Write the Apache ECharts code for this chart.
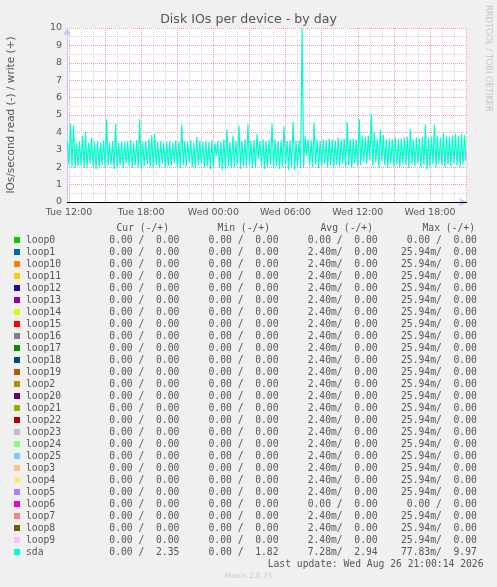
<!DOCTYPE html>
<html>
<head>
<meta charset="utf-8">
<script src="https://cdn.jsdelivr.net/npm/echarts@6/dist/echarts.min.js"></script>
<style>
  html, body { margin: 0; padding: 0; background: #f0f0f0; }
  #chart { width: 497px; height: 587px; }
</style>
</head>
<body>
<div id="chart"></div>
<script>
// devices in legend order
var deviceNames = ['loop0', 'loop1', 'loop10', 'loop11', 'loop12', 'loop13', 'loop14', 'loop15', 'loop16',
    'loop17', 'loop18', 'loop19', 'loop2', 'loop20', 'loop21', 'loop22', 'loop23', 'loop24', 'loop25',
    'loop3', 'loop4', 'loop5', 'loop6', 'loop7', 'loop8', 'loop9', 'sda']
var deviceColors = ['#00CC00', '#0066B3', '#FF8000', '#FFCC00', '#330099', '#990099', '#CCFF00', '#FF0000', '#808080',
    '#008F00', '#00487D', '#B35A00', '#B38F00', '#6B006B', '#8FB300', '#B30000', '#BEBEBE', '#80FF80', '#80C9FF',
    '#FFC080', '#FFE680', '#AA80FF', '#EE00CC', '#FF8080', '#666600', '#FFBFFF', '#00FFCC']

// legend stats (read / write), one entry per device
var curRead  = [0, 0, 0, 0, 0, 0, 0, 0, 0, 0, 0, 0, 0, 0, 0, 0, 0, 0, 0, 0, 0, 0, 0, 0, 0, 0, 0]
var curWrite = [0, 0, 0, 0, 0, 0, 0, 0, 0, 0, 0, 0, 0, 0, 0, 0, 0, 0, 0, 0, 0, 0, 0, 0, 0, 0, 2.35]
var minRead  = [0, 0, 0, 0, 0, 0, 0, 0, 0, 0, 0, 0, 0, 0, 0, 0, 0, 0, 0, 0, 0, 0, 0, 0, 0, 0, 0]
var minWrite = [0, 0, 0, 0, 0, 0, 0, 0, 0, 0, 0, 0, 0, 0, 0, 0, 0, 0, 0, 0, 0, 0, 0, 0, 0, 0, 1.82]
var avgRead  = [0, 0.0024, 0.0024, 0.0024, 0.0024, 0.0024, 0.0024, 0.0024, 0.0024, 0.0024, 0.0024, 0.0024, 0.0024,
    0.0024, 0.0024, 0.0024, 0.0024, 0.0024, 0.0024, 0.0024, 0.0024, 0.0024, 0, 0.0024, 0.0024, 0.0024, 0.00728]
var avgWrite = [0, 0, 0, 0, 0, 0, 0, 0, 0, 0, 0, 0, 0, 0, 0, 0, 0, 0, 0, 0, 0, 0, 0, 0, 0, 0, 2.94]
var maxRead  = [0, 0.02594, 0.02594, 0.02594, 0.02594, 0.02594, 0.02594, 0.02594, 0.02594, 0.02594, 0.02594, 0.02594,
    0.02594, 0.02594, 0.02594, 0.02594, 0.02594, 0.02594, 0.02594, 0.02594, 0.02594, 0.02594, 0, 0.02594, 0.02594,
    0.02594, 0.07783]
var maxWrite = [0, 0, 0, 0, 0, 0, 0, 0, 0, 0, 0, 0, 0, 0, 0, 0, 0, 0, 0, 0, 0, 0, 0, 0, 0, 0, 9.97]

// x axis in hours since Tue 00:00
var xStartHour = 11.834
var xEndHour = 45.08
var labelHours = [12, 18, 24, 30, 36, 42]
var gridHours = [12, 13, 14, 15, 16, 17, 18, 19, 20, 21, 22, 23, 24, 25, 26, 27, 28, 29, 30, 31, 32, 33, 34, 35,
    36, 37, 38, 39, 40, 41, 42, 43, 44, 45]

// sda writes: alternating peak / dip samples
var sdaStart = 11.875
var sdaStep = 0.125
var sdaPeaks = [3.5, 4.5, 4.4, 3.4, 3.5, 3.8, 4.05, 3.4, 3.7, 3.45,
    3.5, 3.4, 3.55, 4.75, 3.4, 3.5, 4.5, 3.4, 3.5, 3.45,
    3.5, 3.55, 3.4, 3.55, 4.75, 3.45, 3.5, 3.6, 3.85, 3.9,
    3.45, 3.5, 3.4, 3.45, 3.5, 3.4, 3.55, 3.45, 4.45, 3.5,
    3.45, 3.55, 3.4, 3.75, 3.5, 3.45, 3.5, 3.45, 3.55, 3.4,
    3.5, 3.45, 3.6, 4.15, 3.45, 3.8, 3.5, 4.4, 3.5, 3.6,
    4.45, 3.5, 3.55, 3.9, 3.5, 3.6, 3.5, 3.55, 4.5, 3.6,
    3.5, 3.55, 4.35, 3.5, 3.55, 4.6, 3.5, 3.55, 9.97, 3.8,
    3.6, 3.55, 4.55, 3.6, 3.5, 3.6, 3.55, 3.65, 3.6, 3.55,
    3.7, 3.6, 3.65, 4.6, 3.6, 3.65, 3.6, 4.75, 3.8, 3.75,
    3.8, 5.05, 4.0, 3.6, 4.15, 3.85, 3.6, 3.65, 3.6, 3.7,
    3.6, 3.65, 3.7, 3.75, 4.2, 3.6, 3.7, 3.65, 3.75, 4.45,
    3.7, 3.75, 4.45, 3.8, 3.7, 3.95, 3.8, 3.75, 3.85, 3.9,
    3.8, 3.9, 3.85]
var sdaDips = [2.15, 2.0, 1.95, 2.05, 2.1, 1.95, 2.0, 2.2, 2.05, 1.9,
    2.0, 2.1, 1.95, 2.05, 2.15, 1.9, 2.0, 2.1, 1.95, 2.2,
    2.05, 1.95, 2.1, 2.0, 1.9, 2.05, 2.15, 2.0, 1.95, 2.1,
    2.0, 2.2, 1.95, 2.05, 2.1, 2.25, 2.0, 1.95, 2.1, 2.05,
    2.3, 2.0, 1.95, 2.1, 2.2, 2.0, 2.05, 1.9, 1.95, 2.6,
    2.0, 1.85, 1.9, 2.05, 1.95, 2.0, 2.1, 1.9, 2.05, 2.0,
    2.1, 1.95, 2.0, 2.5, 2.05, 1.9, 2.0, 2.15, 1.95, 2.05,
    1.9, 2.0, 2.1, 1.85, 2.0, 1.82, 2.05, 1.95, 2.0, 2.6,
    2.1, 2.0, 2.15, 1.95, 2.05, 2.2, 2.0, 2.1, 1.95, 2.15,
    2.05, 2.2, 2.0, 2.1, 1.95, 2.25, 2.05, 2.1, 2.3, 2.2,
    2.4, 2.1, 2.3, 2.0, 2.35, 2.1, 1.95, 2.2, 2.05, 2.15,
    2.0, 2.2, 2.1, 1.95, 2.15, 2.05, 2.2, 2.0, 2.1, 1.85,
    2.05, 2.15, 2.0, 2.2, 2.1, 2.0, 2.15, 2.05, 2.2, 2.1,
    2.0, 2.15, 2.35]

var MONO = '"DejaVu Sans Mono", monospace'
var SANS = '"DejaVu Sans", sans-serif'
var TEXT = '#555'
var MONO_FONT = '9.7px ' + MONO

// rrdtool-like "%6.2lf%s"
function fmt(v) {
    var suffix = ' '
    if (v !== 0 && Math.abs(v) < 1) { v = v * 1000; suffix = 'm' }
    var s = v.toFixed(2)
    while (s.length < 6) s = ' ' + s
    return s + suffix
}
function pair(r, w, i) { return fmt(r[i]) + '/' + fmt(w[i]) }

function label(text, x, y, font, fill, align) {
    return { type: 'text', x: x, y: y, silent: true, style: { text: text, fill: fill || TEXT, font: font,
        align: align || 'left', verticalAlign: 'middle', textAlign: align || 'left', textVerticalAlign: 'middle' } }
}

var sdaData = []
for (var k = 0; k < sdaPeaks.length; k++) {
    sdaData.push([sdaStart + 2 * k * sdaStep, sdaPeaks[k]])
    sdaData.push([sdaStart + (2 * k + 1) * sdaStep, sdaDips[k]])
}

var series = deviceNames.map(function (name, i) {
    var s = {
        name: name,
        type: 'line',
        showSymbol: false,
        data: [],
        itemStyle: { color: deviceColors[i] },
        lineStyle: { color: deviceColors[i], width: 1.2 }
    }
    if (name === 'sda') {
        s.data = sdaData
        s.markLine = {
            silent: true,
            symbol: ['none', 'none'],
            label: { show: false },
            lineStyle: { color: '#000', width: 1, type: 'solid' },
            data: [{ yAxis: 0 }]
        }
    }
    return s
})

// legend text rows (names + cur/min/avg/max columns)
var texts = [
    label('Disk IOs per device - by day', 248.5, 19.5, '12.6px ' + SANS, TEXT, 'center'),
    {
        type: 'text', x: 488.5, y: 5, rotation: -Math.PI / 2, silent: true,
        style: { text: 'RRDTOOL / TOBI OETIKER', fill: '#c4c4c4', font: '8.3px ' + SANS,
            align: 'left', verticalAlign: 'middle', textAlign: 'left', textVerticalAlign: 'middle' }
    },
    label('Cur (-/+)', 116.5, 228.3, MONO_FONT),
    label('Min (-/+)', 217.5, 228.3, MONO_FONT),
    label('Avg (-/+)', 320.5, 228.3, MONO_FONT),
    label('Max (-/+)', 422.5, 228.3, MONO_FONT),
    label('Last update: Wed Aug 26 21:00:14 2026', 483.5, 564.3, MONO_FONT, TEXT, 'right'),
    label('Munin 2.0.75', 248.5, 576.5, '7.3px ' + SANS, '#c8c8c8', 'center')
]
deviceNames.forEach(function (name, i) {
    var y = 240.4 + 12 * i
    texts.push(label(name, 26, y, MONO_FONT))
    texts.push(label(pair(curRead, curWrite, i) + '  ' + pair(minRead, minWrite, i) + '  ' +
        pair(avgRead, avgWrite, i) + '  ' + pair(maxRead, maxWrite, i), 97.7, y, MONO_FONT))
})

var option = {
    animation: false,
    backgroundColor: '#f0f0f0',
    grid: {
        left: 67, right: 30, top: 28, bottom: 385,
        outerBoundsMode: 'none',
        show: true, backgroundColor: '#fff', borderWidth: 0
    },
    xAxis: {
        type: 'value',
        min: xStartHour,
        max: xEndHour,
        axisLine: { show: true, lineStyle: { color: '#c4c4ff' }, symbol: ['none', 'arrow'], symbolSize: [6, 8] },
        axisTick: { show: false, customValues: gridHours },
        axisLabel: {
            customValues: labelHours,
            margin: 6,
            color: TEXT,
            fontFamily: SANS,
            fontSize: 9.5,
            formatter: function (h) {
                var hh = h % 24
                return (h < 24 ? 'Tue ' : 'Wed ') + (hh < 10 ? '0' : '') + hh + ':00'
            }
        },
        splitLine: { show: true, lineStyle: { color: ['#f0a0a0', '#d4d4d4', '#d4d4d4'], type: [1, 1], width: 1 } }
    },
    yAxis: {
        type: 'value',
        min: 0,
        max: 10,
        interval: 0.5,
        name: 'IOs/second read (-) / write (+)',
        nameLocation: 'middle',
        nameGap: 50,
        nameTextStyle: { color: TEXT, fontFamily: SANS, fontSize: 10.5 },
        axisLine: { show: true, lineStyle: { color: '#c4c4ff' }, symbol: ['none', 'arrow'], symbolSize: [6, 8] },
        axisTick: { show: false },
        axisLabel: {
            margin: 5,
            color: TEXT,
            fontFamily: SANS,
            fontSize: 9.5,
            formatter: function (v) { return v % 1 === 0 ? String(v) : '' }
        },
        splitLine: { show: true, lineStyle: { color: ['#f0a0a0', '#d4d4d4'], type: [1, 1], width: 1 } }
    },
    // legend keeps only the colour swatches; its rows of text are drawn as graphic texts
    legend: {
        orient: 'vertical',
        left: 14,
        top: 234,
        padding: 0,
        itemGap: 0,
        itemWidth: 6,
        itemHeight: 6,
        icon: 'rect',
        selectedMode: false,
        data: deviceNames,
        formatter: function () { return ' ' },
        textStyle: { fontFamily: MONO, fontSize: 9.7, lineHeight: 12, color: TEXT }
    },
    graphic: texts,
    series: series
}

var chart = echarts.init(document.getElementById('chart'))
chart.setOption(option)
</script>
</body>
</html>
